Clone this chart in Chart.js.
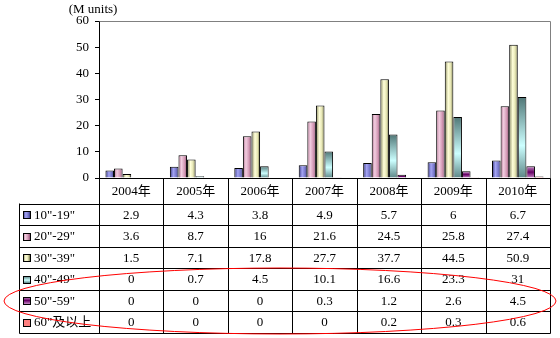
<!DOCTYPE html>
<html>
<head>
<meta charset="utf-8">
<script src="https://cdn.jsdelivr.net/npm/chart.js@4"></script>
<style>
    html, body { margin: 0; padding: 0; background: #fff; }
    #wrap { width: 560px; height: 338px; }
</style>
</head>
<body>
<div id="wrap"><canvas id="chart" width="560" height="338"></canvas></div>
<script>
const years = ['2004年', '2005年', '2006年', '2007年', '2008年', '2009年', '2010年']
const seriesNames = ['10"-19"', '20"-29"', '30"-39"', '40"-49"', '50"-59"', '60"及以上']
const age10 = [2.9, 4.3, 3.8, 4.9, 5.7, 6, 6.7]
const age20 = [3.6, 8.7, 16, 21.6, 24.5, 25.8, 27.4]
const age30 = [1.5, 7.1, 17.8, 27.7, 37.7, 44.5, 50.9]
const age40 = [0, 0.7, 4.5, 10.1, 16.6, 23.3, 31]
const age50 = [0, 0, 0, 0.3, 1.2, 2.6, 4.5]
const age60 = [0, 0, 0, 0, 0.2, 0.3, 0.6]
const yMin = 0
const yMax = 60
const yStep = 10
const unitLabel = '(M units)'

const allSeries = [age10, age20, age30, age40, age50, age60]

// colour stops per series: [direction, stops]
const fills = [
    ['h', [[0, '#34347e'], [0.4, '#a4a4f4'], [0.75, '#7676c8'], [1, '#3c3c88']]],
    ['h', [[0, '#b0708f'], [0.35, '#f2cde0'], [0.7, '#d49ab6'], [1, '#94567a']]],
    ['h', [[0, '#8a8a5c'], [0.4, '#ffffda'], [0.7, '#e6e6b4'], [1, '#76764c']]],
    ['v', [[0, '#4f7676'], [0.6, '#ccffff'], [1, '#5c8686']]],
    ['v', [[0, '#c896c8'], [0.5, '#660066'], [1, '#c88ac8']]],
    ['s', '#ff8080']
]
const flatColors = ['#7070c0', '#d8a0bc', '#eeeec0', '#a0d8d8', '#993399', '#ff8080']

const serif = "'Liberation Serif', 'Noto Sans CJK SC', serif"

function makeFill(c, idx, x0, x1, y0, y1) {
    const f = fills[idx]
    if (f[0] === 's') return f[1]
    if (![x0, x1, y0, y1].every(Number.isFinite) || x1 === x0 || y1 === y0) return flatColors[idx]
    const g = f[0] === 'h' ? c.createLinearGradient(x0, 0, x1, 0) : c.createLinearGradient(0, y0, 0, y1)
    f[1].forEach(s => g.addColorStop(s[0], s[1]))
    return g
}

function barColor(context) {
    const chart = context.chart
    const xs = chart.scales.x
    const ys = chart.scales.y
    const idx = context.datasetIndex
    if (!xs || !ys || context.dataIndex === undefined || !xs.width) return flatColors[idx]
    const w = xs.width / years.length
    const bw = w * 0.8 / allSeries.length
    const left = xs.getPixelForValue(context.dataIndex) - w * 0.4 + idx * bw
    const top = ys.getPixelForValue(allSeries[idx][context.dataIndex])
    const base = ys.getPixelForValue(0)
    return makeFill(chart.ctx, idx, left, left + bw, top, base)
}

const tablePlugin = {
    id: 'tablePlugin',
    afterDraw(chart) {
        const c = chart.ctx
        const area = chart.chartArea
        const xs = chart.scales.x
        const colW = xs.width / years.length
        const tableLeft = 19.5
        const headerTop = Math.round(area.bottom) + 0.5
        const headerBottom = 203.5
        const rowH = 21.5
        const tableBottom = headerBottom + rowH * seriesNames.length
        c.save()

        // grey frame top / right
        c.strokeStyle = '#808080'
        c.lineWidth = 1
        c.beginPath()
        c.moveTo(Math.round(area.left) + 0.5, Math.round(area.top) + 0.5)
        c.lineTo(Math.round(area.right) + 0.5, Math.round(area.top) + 0.5)
        c.lineTo(Math.round(area.right) + 0.5, headerTop)
        c.stroke()

        // table grid
        c.strokeStyle = '#000'
        c.beginPath()
        for (let i = 0; i <= years.length; i++) {
            const x = Math.round(area.left + i * colW) + 0.5
            c.moveTo(x, headerTop)
            c.lineTo(x, Math.round(tableBottom) + 0.5)
        }
        c.moveTo(tableLeft, headerBottom)
        c.lineTo(tableLeft, Math.round(tableBottom) + 0.5)
        for (let r = 0; r <= seriesNames.length; r++) {
            const y = Math.round(headerBottom + r * rowH) + 0.5
            c.moveTo(tableLeft, y)
            c.lineTo(Math.round(area.right) + 0.5, y)
        }
        c.stroke()

        // header
        c.fillStyle = '#000'
        c.font = '13px ' + serif
        c.textAlign = 'center'
        c.textBaseline = 'middle'
        years.forEach((yr, i) => {
            c.fillText(yr, xs.getPixelForValue(i), (headerTop + headerBottom) / 2 + 1)
        })

        // rows
        seriesNames.forEach((name, r) => {
            const cy = headerBottom + r * rowH + rowH / 2 + 1
            allSeries[r].forEach((v, i) => {
                c.textAlign = 'center'
                c.fillText(String(v), xs.getPixelForValue(i), cy)
            })
            const kx = 23, ky = Math.round(cy - 4)
            c.fillStyle = makeFill(c, r, kx, kx + 7, ky, ky + 7)
            c.fillRect(kx, ky, 7, 7)
            c.strokeStyle = '#000'
            c.strokeRect(kx + 0.5, ky + 0.5, 7, 7)
            c.fillStyle = '#000'
            c.textAlign = 'left'
            c.fillText(name, 34, cy)
        })

        // unit label
        c.textAlign = 'center'
        c.fillText(unitLabel, 93, 10)

        // red ellipse mark
        c.strokeStyle = '#ff0000'
        c.lineWidth = 1
        c.beginPath()
        c.ellipse(280, 301, 276, 33, 0, 0, Math.PI * 2)
        c.stroke()
        c.restore()
    }
}

new Chart(document.getElementById('chart'), {
    type: 'bar',
    data: {
        labels: years,
        datasets: allSeries.map((s, i) => ({
            label: seriesNames[i],
            data: s,
            backgroundColor: barColor,
            borderColor: '#000',
            borderWidth: 1,
            borderSkipped: 'bottom',
            categoryPercentage: 0.8,
            barPercentage: 1
        }))
    },
    options: {
        responsive: false,
        devicePixelRatio: 1,
        animation: false,
        layout: { padding: { left: 0, top: 21, right: 10, bottom: 160 } },
        plugins: { legend: { display: false }, tooltip: { enabled: false } },
        scales: {
            x: {
                ticks: { display: false },
                grid: { display: false },
                border: { color: '#000', width: 1 },
                afterFit: scale => { scale.height = 0 }
            },
            y: {
                min: yMin,
                max: yMax,
                ticks: { stepSize: yStep, color: '#000', padding: 6, font: { family: serif, size: 13 } },
                grid: { drawOnChartArea: false, drawTicks: true, tickLength: 4, color: '#000' },
                border: { color: '#000', width: 1 },
                afterFit: scale => { scale.width = 99 }
            }
        }
    },
    plugins: [tablePlugin]
})
</script>
</body>
</html>
